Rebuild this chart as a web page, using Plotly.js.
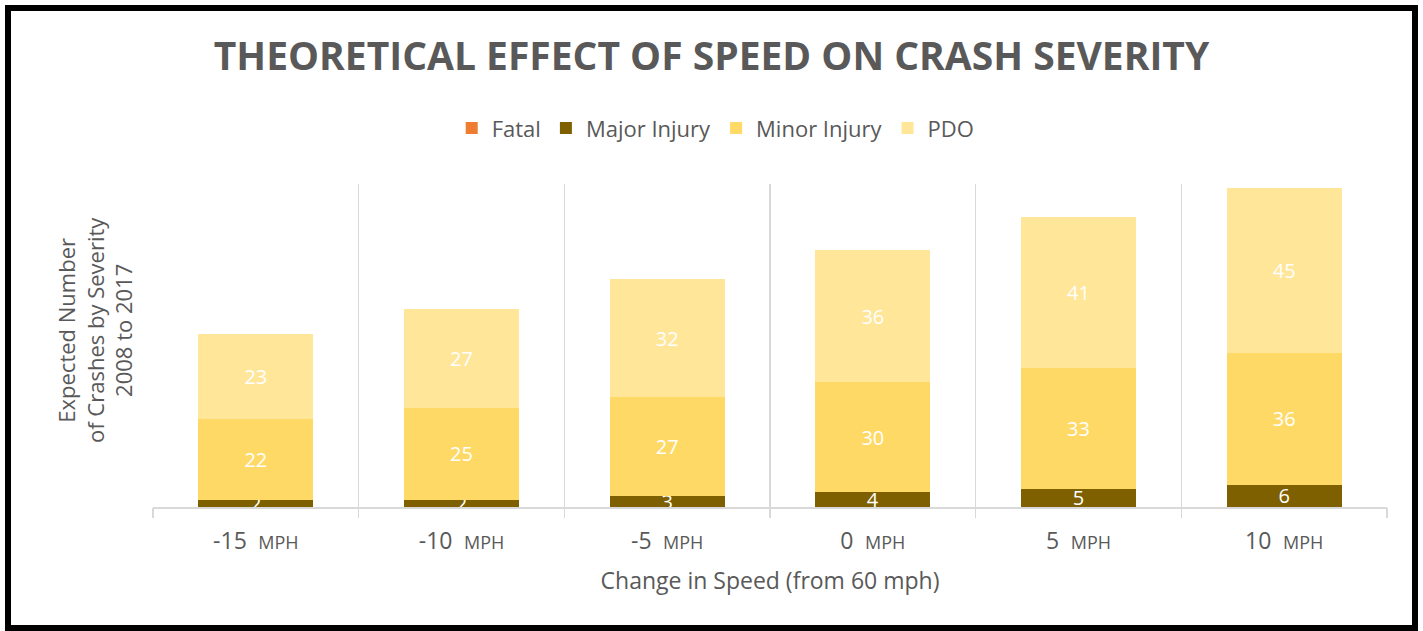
<!DOCTYPE html>
<html>
<head>
<meta charset="utf-8">
<script src="https://cdn.plot.ly/plotly-3.0.1.min.js"></script>
<style>
html,body{margin:0;padding:0;background:#fff;}
#wrap{position:relative;width:1423px;height:631px;}
#chart{width:1423px;height:631px;}
#frame{position:absolute;left:5px;top:5px;width:1401px;height:614px;border:6px solid #000;pointer-events:none;}
</style>
</head>
<body>
<div id="wrap"><div id="chart"></div><div id="frame"></div></div>
<script>
const categories = ["-15", "-10", "-5", "0", "5", "10"];
const tickLabels = ["-15", "-10", "-5", "0", "5", "10"].map(v => v + "\u2002<span style='font-size:18px'>MPH</span>");
const fatal = [0, 0, 0, 0, 0, 0];
const majorInjury = [2, 2, 3, 4, 5, 6];
const minorInjury = [22, 25, 27, 30, 33, 36];
const pdo = [23, 27, 32, 36, 41, 45];
const boundaries = [-0.5, 0.5, 1.5, 2.5, 3.5, 4.5, 5.5];

const gray = "#595959";
const font = "Open Sans, Segoe UI, sans-serif";

function barTrace(name, vals, color, showText) {
  return {
    type: "bar", name: name, x: categories, y: vals,
    marker: {color: color},
    text: showText ? vals.map(String) : vals.map(() => ""),
    textposition: "inside", insidetextanchor: "middle",
    constraintext: "none", textangle: 0,
    textfont: {color: "#ffffff", size: 20, family: font},
    hoverinfo: "name+y"
  };
}

const data = [
  barTrace("Fatal", fatal, "#ED7D31", false),
  barTrace("Major Injury", majorInjury, "#7F6000", true),
  barTrace("Minor Injury", minorInjury, "#FFD966", true),
  barTrace("PDO", pdo, "#FFE699", true),
  {type: "scatter", x: [], y: [], xaxis: "x2", yaxis: "y", showlegend: false, hoverinfo: "skip"}
];

const layout = {
  width: 1423, height: 631,
  paper_bgcolor: "#ffffff", plot_bgcolor: "rgba(0,0,0,0)",
  margin: {l: 153, r: 36, t: 184, b: 124},
  barmode: "stack", bargap: 0.44,
  font: {family: font, color: gray},
  title: {text: "<b>THEORETICAL EFFECT OF SPEED ON CRASH SEVERITY</b>", font: {size: 39, color: gray, family: font}, x: 0.5, xanchor: "center", y: 0.91, yanchor: "middle"},
  showlegend: true,
  legend: {orientation: "h", x: 0.456, xanchor: "center", y: 1.173, yanchor: "middle", font: {size: 22, color: gray}, traceorder: "normal", itemwidth: 30},
  xaxis: {
    type: "category", range: [-0.5, 5.5], tickvals: categories, ticktext: tickLabels,
    showgrid: false, showline: true, linecolor: "#d9d9d9", linewidth: 1.5,
    ticks: "", ticklabelstandoff: 13, tickfont: {size: 23, color: gray}, fixedrange: true,
    title: {text: "Change in Speed (from 60 mph)", font: {size: 23, color: gray}, standoff: 18}
  },
  xaxis2: {
    type: "linear", overlaying: "x", range: [-0.5, 5.5], tickvals: boundaries,
    showticklabels: false, showgrid: true, gridcolor: "#d9d9d9", gridwidth: 1.2,
    ticks: "outside", ticklen: 10, tickcolor: "#d9d9d9", tickwidth: 1.2,
    side: "bottom", anchor: "y", zeroline: false, showline: false
  },
  yaxis: {range: [0, 88], showticklabels: false, showgrid: false, zeroline: false, showline: false, ticks: "", fixedrange: true},
  annotations: [{
    text: "Expected Number<br>of Crashes by Severity<br>2008 to 2017",
    xref: "paper", yref: "paper", x: -0.047, y: 0.548, xanchor: "center", yanchor: "middle",
    textangle: -90, showarrow: false, font: {size: 22, color: gray}
  }]
};

Plotly.newPlot("chart", data, layout, {displayModeBar: false, staticPlot: true});
</script>
</body>
</html>
